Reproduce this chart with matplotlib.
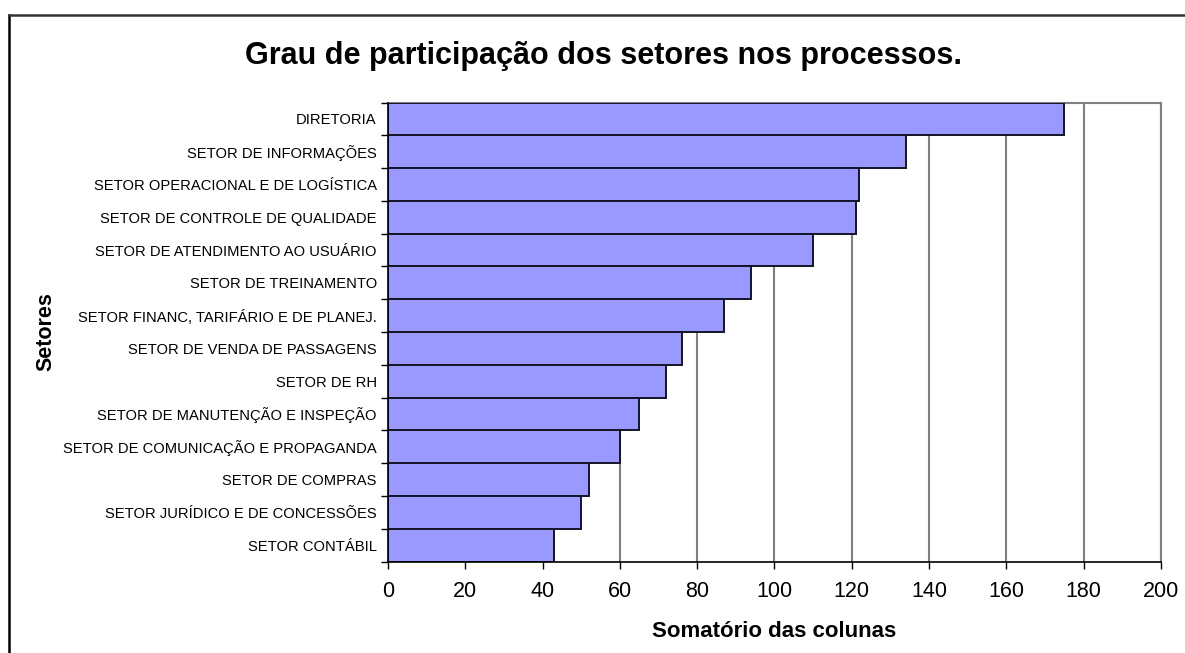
import numpy as np
import matplotlib.pyplot as plt
from matplotlib.lines import Line2D

plt.rcParams['font.family'] = ['Liberation Sans', 'DejaVu Sans']

setores = [
    'DIRETORIA',
    'SETOR DE INFORMAÇÕES',
    'SETOR OPERACIONAL E DE LOGÍSTICA',
    'SETOR DE CONTROLE DE QUALIDADE',
    'SETOR DE ATENDIMENTO AO USUÁRIO',
    'SETOR DE TREINAMENTO',
    'SETOR FINANC, TARIFÁRIO E DE PLANEJ.',
    'SETOR DE VENDA DE PASSAGENS',
    'SETOR DE RH',
    'SETOR DE MANUTENÇÃO E INSPEÇÃO',
    'SETOR DE COMUNICAÇÃO E PROPAGANDA',
    'SETOR DE COMPRAS',
    'SETOR JURÍDICO E DE CONCESSÕES',
    'SETOR CONTÁBIL',
]
somatorio = [175, 134, 122, 121, 110, 94, 87, 76, 72, 65, 60, 52, 50, 43]
x_ticks = [0, 20, 40, 60, 80, 100, 120, 140, 160, 180, 200]

fig = plt.figure(figsize=(11.85, 6.53), dpi=100)
ax = fig.add_axes([0.3274, 0.1401, 0.9797 - 0.3274, 0.8430 - 0.1401])

pos = np.arange(len(setores))
ax.barh(pos, somatorio, height=1.0, color='#9999FF', edgecolor='#141428',
        linewidth=1.4, zorder=3)

ax.set_xlim(0, 200)
ax.set_ylim(len(setores) - 0.5, -0.5)
ax.set_xticks(x_ticks)
ax.set_xticklabels([str(v) for v in x_ticks], fontsize=15.5)
ax.tick_params(axis='x', length=5, width=1, direction='out', pad=9)

ax.set_yticks(pos)
ax.set_yticklabels(setores, fontsize=10.6)
ax.set_yticks(np.arange(len(setores) + 1) - 0.5, minor=True)
ax.tick_params(axis='y', which='major', length=0, pad=8)
ax.tick_params(axis='y', which='minor', length=5, width=1, direction='out')

ax.grid(axis='x', color='#808080', linewidth=1.5, zorder=1)
ax.set_axisbelow(True)

for side in ['top', 'right']:
    ax.spines[side].set_color('#808080')
    ax.spines[side].set_linewidth(1.5)
for side in ['left', 'bottom']:
    ax.spines[side].set_color('black')
    ax.spines[side].set_linewidth(1.2)
    ax.spines[side].set_zorder(4)

ax.set_xlabel('Somatório das colunas', fontsize=16, fontweight='bold', labelpad=14)
ax.set_ylabel('Setores', fontsize=15.5, fontweight='bold', labelpad=5)
fig.text(0.509, 0.915, 'Grau de participação dos setores nos processos.',
         ha='center', va='center', fontsize=22, fontweight='bold')

# moldura do gráfico
fig.add_artist(Line2D([9 / 1185, 9 / 1185], [0, 1 - 15 / 653], color='black', linewidth=1.8))
fig.add_artist(Line2D([9 / 1185, 1], [1 - 15 / 653, 1 - 15 / 653], color='#333333', linewidth=1.8))

fig.savefig('out.png', dpi=100)
